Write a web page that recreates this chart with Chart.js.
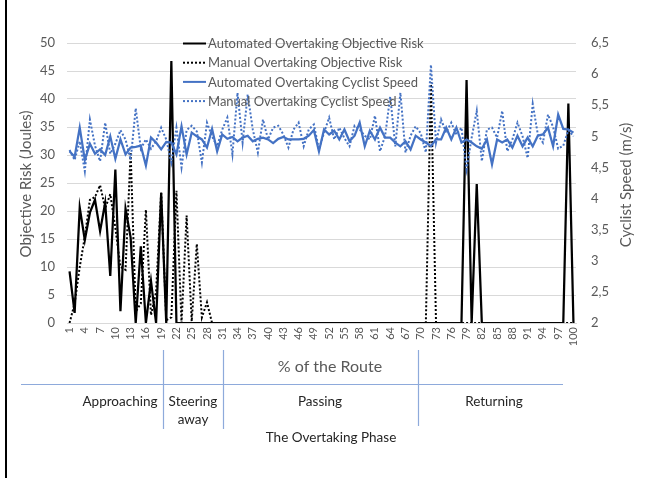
<!DOCTYPE html>
<html>
<head>
<meta charset="utf-8">
<script src="https://cdn.jsdelivr.net/npm/chart.js@4.4.1/dist/chart.umd.min.js"></script>
<style>
    html, body { margin: 0; padding: 0; background: #fff; }
    #wrap { position: relative; width: 645px; height: 478px; }
    #frame { position: absolute; left: 5px; top: 0; width: 2px; height: 478px; background: #000; }
</style>
</head>
<body>
<div id="wrap">
    <canvas id="chart"></canvas>
    <div id="frame"></div>
</div>
<script>
// % of the route (categories)
const routePct = [1, 2, 3, 4, 5, 6, 7, 8, 9, 10, 11, 12, 13, 14, 15, 16, 17, 18, 19, 20,
    21, 22, 23, 24, 25, 26, 27, 28, 29, 30, 31, 32, 33, 34, 35, 36, 37, 38, 39, 40,
    41, 42, 43, 44, 45, 46, 47, 48, 49, 50, 51, 52, 53, 54, 55, 56, 57, 58, 59, 60,
    61, 62, 63, 64, 65, 66, 67, 68, 69, 70, 71, 72, 73, 74, 75, 76, 77, 78, 79, 80,
    81, 82, 83, 84, 85, 86, 87, 88, 89, 90, 91, 92, 93, 94, 95, 96, 97, 98, 99, 100];

// Objective risk (Joules)
const autoRisk = [9.2, 1.8, 20.6, 14.8, 19.7, 22, 16.4, 21.5, 8.4, 27.4,
    2.1, 20.4, 15.3, 0, 13.7, 0, 7.5, 0, 23.2, 0,
    46.8, 0, 0, 0, 0, 0, 0, 0, 0, 0,
    0, 0, 0, 0, 0, 0, 0, 0, 0, 0,
    0, 0, 0, 0, 0, 0, 0, 0, 0, 0,
    0, 0, 0, 0, 0, 0, 0, 0, 0, 0,
    0, 0, 0, 0, 0, 0, 0, 0, 0, 0,
    0, 0, 0, 0, 0, 0, 0, 0, 43.4, 0,
    24.8, 0, 0, 0, 0, 0, 0, 0, 0, 0,
    0, 0, 0, 0, 0, 0, 0, 0, 39.2, 0];

const manualRisk = [0, 3.5, 10, 15.4, 22, 22.5, 24.6, 20.5, 23, 17,
    10, 9.5, 30.5, 2, 3.5, 20.2, 1.4, 5.5, 23.4, 0.5,
    1, 23.6, 0, 19.2, 0.3, 14.1, 1, 3.7, 0, 0,
    0, 0, 0, 0, 0, 0, 0, 0, 0, 0,
    0, 0, 0, 0, 0, 0, 0, 0, 0, 0,
    0, 0, 0, 0, 0, 0, 0, 0, 0, 0,
    0, 0, 0, 0, 0, 0, 0, 0, 0, 0,
    0, 43, 0, 0, 0, 0, 0, 0, 0, 0,
    0, 0, 0, 0, 0, 0, 0, 0, 0, 0,
    0, 0, 0, 0, 0, 0, 0, 0, 0, 0];

// Cyclist speed (m/s)
const autoSpeed = [4.76, 4.67, 5.14, 4.62, 4.88, 4.72, 4.79, 4.70, 5.00, 4.64,
    4.95, 4.71, 4.82, 4.83, 4.85, 4.53, 4.98, 4.90, 4.79, 4.91,
    4.90, 4.71, 5.16, 4.71, 5.06, 5.00, 4.95, 4.82, 5.12, 4.76,
    5.03, 4.96, 4.99, 4.92, 4.98, 5.01, 4.92, 4.96, 4.98, 4.95,
    4.89, 4.96, 4.99, 4.95, 4.95, 4.95, 4.96, 5.01, 5.10, 4.76,
    5.11, 5.03, 5.09, 4.95, 5.11, 4.92, 5.01, 5.22, 4.84, 5.09,
    4.95, 5.14, 4.98, 4.98, 4.90, 4.84, 4.92, 4.79, 5.01, 4.95,
    4.90, 4.84, 4.95, 4.95, 5.14, 4.95, 5.14, 4.90, 4.95, 4.90,
    4.84, 4.80, 4.95, 4.55, 4.95, 4.90, 4.95, 4.82, 5.01, 4.84,
    4.98, 4.84, 5.01, 5.03, 5.14, 4.84, 5.35, 5.12, 5.11, 5.06];

const manualSpeed = [4.78, 4.62, 4.92, 4.44, 5.27, 4.85, 4.60, 5.22, 4.72, 4.88,
    5.10, 4.95, 4.62, 5.45, 4.80, 4.95, 4.80, 4.92, 5.14, 4.95,
    4.58, 5.14, 4.50, 5.10, 5.17, 5.08, 4.58, 5.22, 5.00, 4.84,
    5.11, 5.30, 4.71, 5.70, 4.90, 5.67, 5.11, 4.74, 5.27, 4.95,
    5.14, 5.17, 5.03, 4.82, 5.11, 5.22, 4.84, 5.11, 5.19, 4.79,
    5.06, 5.30, 4.95, 5.14, 4.97, 4.84, 5.17, 5.11, 5.01, 4.95,
    5.33, 4.76, 5.01, 5.64, 4.84, 5.70, 4.74, 5.01, 5.16, 5.05,
    4.74, 6.15, 4.90, 5.27, 5.06, 5.22, 5.03, 5.14, 4.47, 4.98,
    5.41, 4.60, 5.11, 5.14, 4.98, 5.41, 4.76, 4.95, 5.22, 5.00,
    4.65, 5.52, 5.03, 4.90, 5.35, 5.15, 4.80, 4.85, 5.10, 5.00];

// axis tick labels
const riskTicks = ['0', '5', '10', '15', '20', '25', '30', '35', '40', '45', '50'];
const speedTicks = ['2', '2,5', '3', '3,5', '4', '4,5', '5', '5,5', '6', '6,5'];

// phase annotation below the axis
const phaseNames = ['Approaching', 'Steering', 'Passing', 'Returning'];

const FONT = 'Lato, "Open Sans", sans-serif';
const GREY = '#595959';
const BLUE = '#4472c4';

// Legend, axis titles and phase strip
const extras = {
    id: 'extras',
    afterDatasetsDraw(chart) {
        const ctx = chart.ctx;
        ctx.save();
        ctx.font = '13px ' + FONT;
        ctx.textBaseline = 'middle';
        ctx.textAlign = 'left';
        const rows = [0, 1, 2, 3];
        rows.forEach((i, r) => {
            const ds = chart.data.datasets[i];
            const y = 43.5 + r * 19.2;
            ctx.beginPath();
            ctx.strokeStyle = ds.borderColor;
            ctx.lineWidth = 2;
            ctx.setLineDash(ds.borderDash || []);
            ctx.moveTo(183, y);
            ctx.lineTo(206, y);
            ctx.stroke();
            ctx.setLineDash([]);
            ctx.fillStyle = GREY;
            ctx.fillText(ds.label, 208, y + 0.5);
        });
        ctx.restore();
    },
    afterDraw(chart) {
        const ctx = chart.ctx;
        ctx.save();

        // axis titles
        ctx.fillStyle = GREY;
        ctx.font = '15px ' + FONT;
        ctx.textAlign = 'center';
        ctx.textBaseline = 'middle';
        [[26, 184, 'Objective Risk (Joules)'], [626, 185, 'Cyclist Speed (m/s)']].forEach(t => {
            ctx.save();
            ctx.translate(t[0], t[1]);
            ctx.rotate(-Math.PI / 2);
            ctx.fillText(t[2], 0, 0);
            ctx.restore();
        });

        ctx.font = '16px ' + FONT;
        ctx.fillText('% of the Route', 330, 367);

        // phase separators
        ctx.strokeStyle = '#8eaadb';
        ctx.lineWidth = 1.2;
        ctx.beginPath();
        ctx.moveTo(21, 384.5); ctx.lineTo(563, 384.5);
        ctx.moveTo(163.5, 350); ctx.lineTo(163.5, 429);
        ctx.moveTo(223.5, 350); ctx.lineTo(223.5, 429);
        ctx.moveTo(418.5, 350); ctx.lineTo(418.5, 426);
        ctx.stroke();

        ctx.fillStyle = '#262626';
        ctx.font = '13.5px ' + FONT;
        ctx.fillText(phaseNames[0], 120, 402);
        ctx.fillText(phaseNames[1], 193, 402);
        ctx.fillText('away', 193, 420);
        ctx.fillText(phaseNames[2], 320, 402);
        ctx.fillText(phaseNames[3], 494, 402);
        ctx.fillText('The Overtaking Phase', 331, 438);
        ctx.restore();
    }
};

new Chart(document.getElementById('chart'), {
    type: 'line',
    data: {
        labels: routePct,
        datasets: [
            {
                label: 'Automated Overtaking Objective Risk',
                data: autoRisk,
                yAxisID: 'y',
                borderColor: '#000000',
                borderWidth: 2.25,
                order: 3
            },
            {
                label: 'Manual Overtaking Objective Risk',
                data: manualRisk,
                yAxisID: 'y',
                borderColor: '#000000',
                borderWidth: 2,
                borderDash: [2, 2],
                order: 2
            },
            {
                label: 'Automated Overtaking Cyclist Speed',
                data: autoSpeed,
                yAxisID: 'y1',
                borderColor: BLUE,
                borderWidth: 2.25,
                order: 1
            },
            {
                label: 'Manual Overtaking Cyclist Speed',
                data: manualSpeed,
                yAxisID: 'y1',
                borderColor: BLUE,
                borderWidth: 2,
                borderDash: [2, 2],
                order: 0
            }
        ]
    },
    options: {
        responsive: true,
        maintainAspectRatio: false,
        animation: false,
        layout: { padding: { top: 43, bottom: 125, left: 0, right: 0 } },
        elements: {
            point: { radius: 0, hoverRadius: 0 },
            line: { tension: 0, fill: false, borderJoinStyle: 'miter' }
        },
        plugins: {
            legend: { display: false },
            tooltip: { enabled: false }
        },
        scales: {
            x: {
                type: 'category',
                offset: true,
                grid: { display: false, drawTicks: false },
                border: { display: true, color: '#d9d9d9' },
                ticks: {
                    autoSkip: false,
                    maxRotation: 90,
                    minRotation: 90,
                    padding: 4,
                    color: GREY,
                    font: { family: FONT, size: 11 },
                    callback: function (value, index) {
                        return index % 3 === 0 ? String(routePct[index]) : '';
                    }
                },
                afterFit: function (scale) { scale.height = 30; }
            },
            y: {
                position: 'left',
                min: 0,
                max: 50,
                grid: { color: '#d9d9d9', lineWidth: 1, drawTicks: false },
                border: { display: false },
                ticks: {
                    stepSize: 5,
                    padding: 12,
                    color: GREY,
                    font: { family: FONT, size: 13 },
                    callback: function (value) { return riskTicks[Math.round(value / 5)]; }
                },
                afterFit: function (scale) { scale.width = 67; }
            },
            y1: {
                position: 'right',
                min: 2,
                max: 6.5,
                grid: { display: false, drawTicks: false },
                border: { display: false },
                ticks: {
                    stepSize: 0.5,
                    padding: 15,
                    color: GREY,
                    font: { family: FONT, size: 13 },
                    callback: function (value) { return speedTicks[Math.round((value - 2) / 0.5)]; }
                },
                afterFit: function (scale) { scale.width = 69; }
            }
        }
    },
    plugins: [extras]
});
</script>
</body>
</html>
